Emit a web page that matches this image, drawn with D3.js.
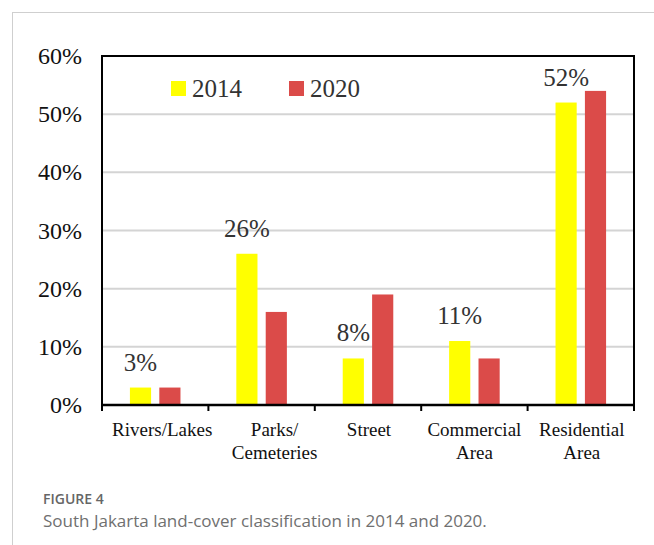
<!DOCTYPE html>
<html>
<head>
<meta charset="utf-8">
<script src="https://cdn.jsdelivr.net/npm/d3@7"></script>
<style>
  body { margin: 0; background: #fff; }
</style>
</head>
<body>
<div id="chart"></div>
<script>
const categories = [["Rivers/Lakes"], ["Parks/", "Cemeteries"], ["Street"], ["Commercial", "Area"], ["Residential", "Area"]];
const catKeys = ["Rivers/Lakes", "Parks/Cemeteries", "Street", "Commercial Area", "Residential Area"];
const years = ["2014", "2020"];
const values2014 = [3, 26, 8, 11, 52];
const values2020 = [3, 16, 19, 8, 54];
const yTicks = [0, 10, 20, 30, 40, 50, 60];
const colors = ["#ffff00", "#db4b49"];

const width = 654, height = 545;
const plotLeft = 102, plotRight = 634, plotTop = 56, plotBottom = 405;
// the original label boxes are not quite centred under their groups
const labelShift = [7, 13, 1, 0, 1];
const serif = "Liberation Serif, Times New Roman, serif";

const svg = d3.select("#chart").append("svg")
    .attr("width", width)
    .attr("height", height);

// card frame
svg.append("line").attr("x1", 12).attr("x2", 654).attr("y1", 12.5).attr("y2", 12.5)
    .attr("stroke", "#cfcfcf").attr("stroke-width", 1);
svg.append("line").attr("x1", 12.5).attr("x2", 12.5).attr("y1", 12).attr("y2", 545)
    .attr("stroke", "#cfcfcf").attr("stroke-width", 1);

const x = d3.scaleBand().domain(catKeys).range([plotLeft, plotRight]);
const xInner = d3.scaleBand().domain(years).range([0, x.bandwidth()]).paddingInner(0.28).paddingOuter(0.95);
const y = d3.scaleLinear().domain([0, 60]).range([plotBottom, plotTop]);

// gridlines
svg.append("g").selectAll("line").data(yTicks.filter(d => d > 0 && d < 60)).enter().append("line")
    .attr("x1", plotLeft).attr("x2", plotRight)
    .attr("y1", d => y(d)).attr("y2", d => y(d))
    .attr("stroke", "#d4d4d4").attr("stroke-width", 2);

// plot box
svg.append("rect").attr("x", plotLeft).attr("y", plotTop)
    .attr("width", plotRight - plotLeft).attr("height", plotBottom - plotTop)
    .attr("fill", "none").attr("stroke", "#000").attr("stroke-width", 2);

// bars
const series = [values2014, values2020];
const g = svg.append("g");
years.forEach((yr, i) => {
    g.selectAll(".bar" + yr).data(series[i]).enter().append("rect")
        .attr("x", (d, j) => x(catKeys[j]) + xInner(yr))
        .attr("y", d => y(d))
        .attr("width", xInner.bandwidth())
        .attr("height", d => y(0) - y(d))
        .attr("fill", colors[i]);
});

// value labels over 2014 bars
g.selectAll(".lbl").data(values2014).enter().append("text")
    .attr("x", (d, j) => x(catKeys[j]) + xInner("2014") + xInner.bandwidth() / 2)
    .attr("y", d => y(d) - 17)
    .attr("text-anchor", "middle")
    .attr("font-family", serif)
    .attr("font-size", 25)
    .attr("fill", "#333")
    .text(d => d + "%");

// x axis
const xAxis = svg.append("g").attr("transform", `translate(0,${plotBottom})`);
xAxis.append("line").attr("x1", plotLeft - 1).attr("x2", plotRight + 1)
    .attr("stroke", "#000").attr("stroke-width", 2.5);
xAxis.selectAll(".tick").data(d3.range(catKeys.length + 1)).enter().append("line")
    .attr("x1", i => plotLeft + i * x.step()).attr("x2", i => plotLeft + i * x.step())
    .attr("y1", 0).attr("y2", 6)
    .attr("stroke", "#000").attr("stroke-width", 2);
xAxis.selectAll(".xl").data(categories).enter().append("text")
    .attr("x", (d, j) => x(catKeys[j]) + x.bandwidth() / 2 + labelShift[j])
    .attr("y", 31)
    .attr("text-anchor", "middle")
    .attr("font-family", serif)
    .attr("font-size", 19)
    .attr("fill", "#111")
    .each(function (d) {
        d3.select(this).selectAll("tspan").data(d).enter().append("tspan")
            .attr("x", d3.select(this).attr("x"))
            .attr("dy", (t, k) => k === 0 ? 0 : 23)
            .text(t => t);
    });

// y axis labels
svg.append("g").selectAll("text").data(yTicks).enter().append("text")
    .attr("x", 82)
    .attr("y", d => y(d) + 8)
    .attr("text-anchor", "end")
    .attr("font-family", serif)
    .attr("font-size", 24)
    .attr("fill", "#111")
    .text(d => d + "%");

// legend
const legendX = [171, 289];
const legend = svg.append("g");
years.forEach((yr, i) => {
    legend.append("rect").attr("x", legendX[i]).attr("y", 81)
        .attr("width", 15).attr("height", 15).attr("fill", colors[i]);
    legend.append("text").attr("x", legendX[i] + 21).attr("y", 97)
        .attr("font-family", serif)
        .attr("font-size", 25)
        .attr("fill", "#333")
        .text(yr);
});

// caption
svg.append("text").attr("x", 43).attr("y", 504)
    .attr("font-family", "Open Sans, sans-serif").attr("font-size", 14)
    .attr("font-weight", 600).attr("fill", "#666")
    .text("FIGURE 4");
svg.append("text").attr("x", 43).attr("y", 527)
    .attr("font-family", "Open Sans, sans-serif").attr("font-size", 17)
    .attr("fill", "#707070")
    .text("South Jakarta land-cover classification in 2014 and 2020.");
</script>
</body>
</html>
